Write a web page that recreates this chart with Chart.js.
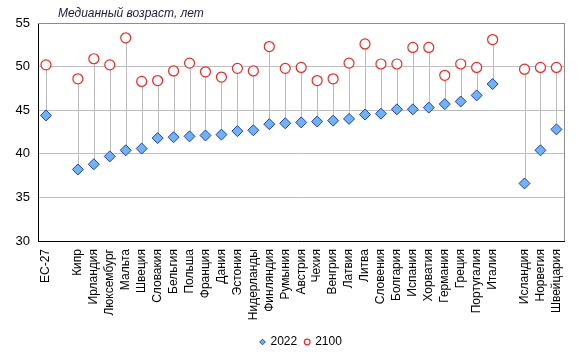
<!DOCTYPE html>
<html><head><meta charset="utf-8">
<script src="https://cdn.jsdelivr.net/npm/chart.js@4/dist/chart.umd.min.js"></script>
<style>html,body{margin:0;padding:0;background:#fff}#wrap{width:579px;height:358px}</style>
</head><body><div id="wrap"><canvas id="c"></canvas></div>
<script>
const categories = ['ЕС-27','','Кипр','Ирландия','Люксембург','Мальта','Швеция','Словакия','Бельгия','Польша','Франция','Дания','Эстония','Нидерланды','Финляндия','Румыния','Австрия','Чехия','Венгрия','Латвия','Литва','Словения','Болгария','Испания','Хорватия','Германия','Греция','Португалия','Италия','','Исландия','Норвегия','Швейцария'];
const values2022 = [44.4,null,38.2,38.8,39.7,40.4,40.6,41.8,41.9,42.0,42.1,42.2,42.6,42.7,43.4,43.5,43.6,43.7,43.8,44.0,44.5,44.6,45.1,45.1,45.3,45.7,46.0,46.7,48.0,null,36.6,40.4,42.8];
const values2100 = [50.2,null,48.6,50.9,50.2,53.3,48.3,48.4,49.5,50.4,49.4,48.8,49.8,49.5,52.3,49.8,49.9,48.4,48.6,50.4,52.6,50.3,50.3,52.2,52.2,49.0,50.3,49.9,53.1,null,49.7,49.9,49.9];
const yTicks = [30,35,40,45,50,55];
const titleText = 'Медианный возраст, лет';

const FONT = "'Liberation Sans', Arial, sans-serif";

const framePlugin = {
  id:'frame',
  beforeDatasetsDraw(chart){
    const {ctx, chartArea:a, scales} = chart;
    ctx.save();
    ctx.strokeStyle = '#8c8c8c'; ctx.lineWidth = 1;
    ctx.beginPath();
    ctx.moveTo(Math.round(a.right)+0.5, a.top); ctx.lineTo(Math.round(a.right)+0.5, a.bottom);
    ctx.moveTo(a.left, Math.round(a.top)+0.5); ctx.lineTo(a.right, Math.round(a.top)+0.5);
    ctx.stroke();
    // high-low lines between the two series
    ctx.strokeStyle = '#bcbcbc';
    ctx.beginPath();
    values2022.forEach((v,i)=>{
      const w = values2100[i];
      if (v==null || w==null) return;
      const x = Math.round(scales.x.getPixelForValue(i)) + 0.5;
      ctx.moveTo(x, scales.y.getPixelForValue(Math.max(v,w)));
      ctx.lineTo(x, scales.y.getPixelForValue(Math.min(v,w)));
    });
    ctx.stroke();
    ctx.restore();
  },
  afterDraw(chart){
    const {ctx, chartArea:a} = chart;
    ctx.save();
    ctx.font = 'italic 12px ' + FONT;
    ctx.fillStyle = '#1a1a40';
    ctx.textBaseline = 'alphabetic';
    ctx.fillText(titleText, a.left + 20, 17);
    ctx.restore();
  }
};

new Chart(document.getElementById('c'), {
  type:'line',
  data:{
    labels: categories,
    datasets:[
      {label:'2022', data: values2022, showLine:false, pointStyle:'rectRot', pointRadius:5.5, pointHoverRadius:5.5,
       backgroundColor:'#6cb4f2', borderColor:'#2438c8', borderWidth:1},
      {label:'2100', data: values2100, showLine:false, pointStyle:'circle', pointRadius:5, pointHoverRadius:5,
       backgroundColor:'#ffffff', borderColor:'#ff2020', borderWidth:1.2}
    ]
  },
  options:{
    responsive:true, maintainAspectRatio:false, animation:false,
    layout:{padding:{top:23,right:12,left:0,bottom:0}},
    plugins:{
      legend:{position:'bottom', fullSize:false, labels:{
        usePointStyle:true, boxWidth:4, boxHeight:4, padding:8,
        font:{family:FONT, size:12}, color:'#000'
      }},
      tooltip:{enabled:false},
      title:{display:false}
    },
    scales:{
      x:{type:'category', offset:true,
        grid:{display:false, drawTicks:false},
        border:{color:'#000', width:1},
        ticks:{minRotation:90, maxRotation:90, autoSkip:false, color:'#000', font:{family:FONT, size:12}, padding:8},
        afterFit:(s)=>{s.height = 87;}
      },
      y:{min:30, max:55,
        afterBuildTicks:(s)=>{s.ticks = yTicks.map(v=>({value:v}));},
        grid:{color:'#bdbdbd', drawTicks:false},
        border:{color:'#000', width:1},
        ticks:{color:'#000', font:{family:FONT, size:13}, padding:8},
        afterFit:(s)=>{s.width = 38;}
      }
    }
  },
  plugins:[framePlugin]
});
</script></body></html>
